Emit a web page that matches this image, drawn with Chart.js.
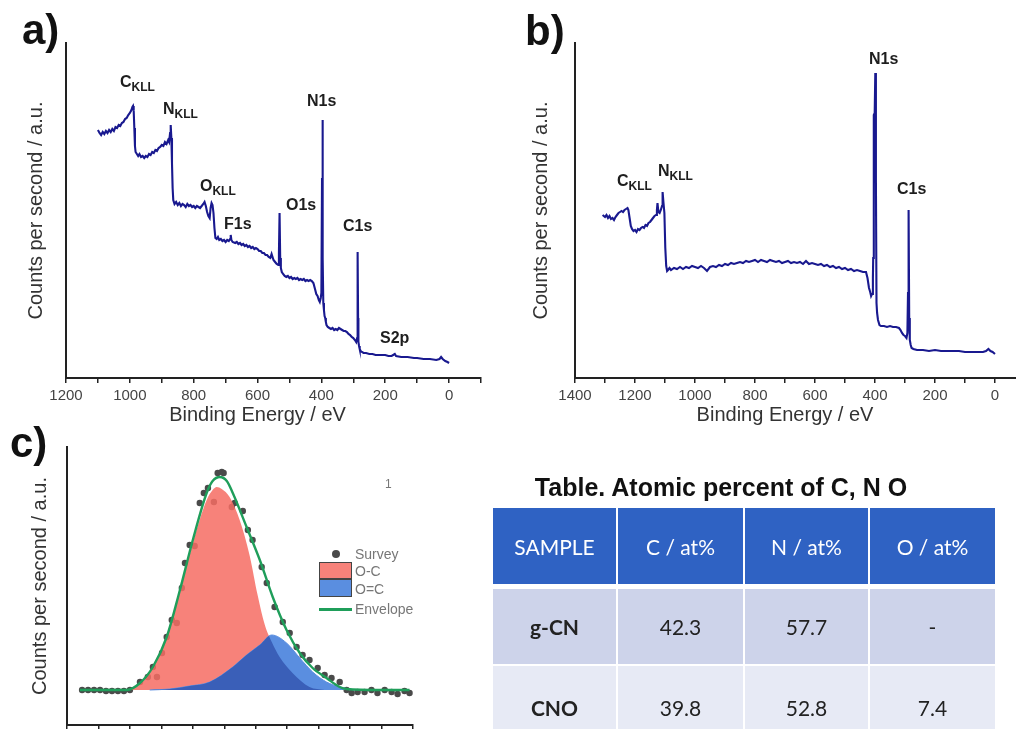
<!DOCTYPE html>
<html><head><meta charset="utf-8">
<script src="https://cdn.jsdelivr.net/npm/chart.js@4.4.1/dist/chart.umd.min.js"></script>
<style>
body{margin:0;width:1016px;height:729px;overflow:hidden;background:#fff;position:relative;font-family:"Liberation Sans",Arial,sans-serif}
canvas{position:absolute}
.lbl{position:absolute;font-weight:bold;font-size:16px;line-height:16px;color:#1e1e1e;white-space:nowrap}
.lbl sub{font-size:12px;vertical-align:-4px;line-height:0}
.panel{position:absolute;font-weight:bold;font-size:42px;line-height:42px;color:#111}
#leg{position:absolute;left:0;top:0}
.lt{position:absolute;font-size:14px;line-height:14px;color:#777;white-space:nowrap}
#ttl{position:absolute;left:471px;top:475px;width:500px;text-align:center;font-weight:bold;font-size:25px;line-height:25px;color:#111}
#tb{position:absolute;left:493px;top:508px;font-family:Lato,"Liberation Sans",sans-serif;font-size:21px}
.row{display:flex;gap:2px}
.cell{display:flex;align-items:center;justify-content:center}
.h .cell{background:#2f62c3;color:#fff;height:76px}
.r1 .cell{background:#cdd3ea;color:#222;height:75px}
.r2 .cell{background:#e7eaf5;color:#222;height:82px}
.s{font-weight:bold}
</style></head>
<body>
<canvas id="ca" width="500" height="440" style="left:0;top:0"></canvas>
<canvas id="cb" width="516" height="440" style="left:500px;top:0"></canvas>
<canvas id="cc" width="480" height="309" style="left:0;top:420px"></canvas>

<div class="panel" style="left:22px;top:9px">a)</div>
<div class="panel" style="left:525px;top:10px">b)</div>
<div class="panel" style="left:10px;top:422px">c)</div>

<div class="lbl" style="left:120px;top:74px">C<sub>KLL</sub></div>
<div class="lbl" style="left:163px;top:101px">N<sub>KLL</sub></div>
<div class="lbl" style="left:200px;top:178px">O<sub>KLL</sub></div>
<div class="lbl" style="left:224px;top:216px">F1s</div>
<div class="lbl" style="left:286px;top:197px">O1s</div>
<div class="lbl" style="left:307px;top:93px">N1s</div>
<div class="lbl" style="left:343px;top:218px">C1s</div>
<div class="lbl" style="left:380px;top:330px">S2p</div>

<div class="lbl" style="left:617px;top:173px">C<sub>KLL</sub></div>
<div class="lbl" style="left:658px;top:163px">N<sub>KLL</sub></div>
<div class="lbl" style="left:869px;top:51px">N1s</div>
<div class="lbl" style="left:897px;top:181px">C1s</div>

<div id="leg">
  <div style="position:absolute;left:332px;top:550px;width:8px;height:8px;border-radius:50%;background:#4a4a4a"></div>
  <div class="lt" style="left:355px;top:547px">Survey</div>
  <div style="position:absolute;left:319px;top:562px;width:31px;height:15px;background:#f7827a;border:1px solid #444"></div>
  <div class="lt" style="left:355px;top:564px">O-C</div>
  <div style="position:absolute;left:319px;top:579px;width:31px;height:16px;background:#5a8ee0;border:1px solid #444"></div>
  <div class="lt" style="left:355px;top:582px">O=C</div>
  <div style="position:absolute;left:319px;top:608px;width:33px;height:3px;background:#1f9e5a"></div>
  <div class="lt" style="left:355px;top:602px">Envelope</div>
  <div class="lt" style="left:385px;top:477px;font-size:12px">1</div>
</div>

<div id="ttl">Table. Atomic percent of C, N O</div>
<div id="tb"></div>

<script>
// ---------- Panel a: survey spectrum ----------
const aEnergy = [1100,1095,1090,1085,1080,1075,1070,1065,1060,1055,1050,1045,1040,1035,1030,1025,1020,1015,1010,1005,1000,995,992,990,988,986,984,982,978,974,970,965,960,955,950,945,940,935,930,925,920,915,910,905,900,895,890,885,880,877,874,872,870,868,866,864,860,855,850,845,840,835,830,825,820,815,810,805,800,795,790,785,780,775,770,766,762,758,754,750,747,744,741,738,735,732,728,724,720,715,710,705,700,695,690,686,684,682,678,670,665,660,655,650,645,640,635,630,625,620,615,610,605,600,595,590,585,580,575,570,565,560,556,550,545,540,535,533,531,529,527,524,520,515,510,505,500,495,490,485,480,475,470,465,460,455,450,445,440,435,430,425,420,416,412,408,405,402,400,398,397,396,395,394,392,390,388,386,384,380,375,370,365,360,355,350,345,340,335,330,325,320,315,310,305,300,295,291,288,287,286,285,284,282,280,277,273,268,260,250,240,230,220,210,200,190,180,170,166,150,130,110,100,80,60,40,30,25,20,12,5,0];
const aCounts = [248,245,243,246,244,247,245,248,246,249,247,251,250,253,252,255,256,259,260,263,265,268,271,272,268,250,232,226,224,222,224,221,222,220,222,221,224,223,226,225,228,227,230,231,233,232,236,234,238,236,245,253,240,215,190,178,174,176,173,175,172,174,173,171,174,172,173,171,172,170,172,171,170,172,174,176,172,166,162,160,170,175,173,165,150,140,139,141,138,139,137,138,136,138,137,139,143,138,136,135,136,134,135,133,134,132,133,131,132,130,131,129,130,129,127,127,125,125,123,123,121,120,124,118,116,114,113,125,165,120,110,106,104,102,101,102,100,101,99,100,99,100,98,99,98,99,97,98,97,98,97,95,89,84,82,78,76,80,85,200,258,210,120,75,68,62,60,56,53,51,50,49,50,48,49,48,50,49,48,47,47,46,44,43,41,40,38,36,40,80,126,60,36,32,29,27,26,25,25,24,24,23,23,23,23,22,22,24,22,21,21,20,20,19,19,18,19,21,19,17,16,15];
const aTickValues = [1200,1100,1000,900,800,700,600,500,400,300,200,100,0,-100];
const aTickLabels = ['1200','','1000','','800','','600','','400','','200','','0',''];

// ---------- Panel b: survey spectrum ----------
const bEnergy = [1308,1300,1295,1290,1285,1280,1275,1270,1265,1260,1255,1250,1245,1240,1235,1230,1225,1222,1218,1214,1210,1205,1200,1195,1190,1185,1180,1175,1170,1165,1160,1155,1150,1145,1140,1135,1130,1127,1125,1122,1118,1114,1110,1108,1105,1102,1099,1096,1093,1090,1085,1080,1070,1060,1050,1040,1030,1020,1010,1000,990,980,970,960,950,940,930,920,910,900,890,880,870,860,850,840,830,820,810,800,790,780,770,760,750,740,730,720,710,700,690,680,670,660,650,640,630,620,610,600,590,580,570,560,550,540,530,520,510,500,490,480,470,460,450,440,430,425,420,416,413,410,407,406,404,401,399,397,395,393,390,385,380,370,360,350,340,330,320,315,310,305,300,295,292,290,288,286,284,281,278,272,260,240,220,200,180,160,140,120,100,80,60,40,30,22,15,8,0];
const bCounts = [163,161,163,160,162,159,160,158,161,163,165,166,167,166,168,169,170,168,160,152,149,147,148,146,149,148,150,151,150,153,152,155,156,158,160,162,163,168,175,166,165,168,172,186,175,165,130,112,107,108,110,108,110,109,111,109,111,110,112,111,110,112,110,107,111,112,111,113,112,114,113,115,114,115,116,115,117,116,117,118,116,118,117,116,118,117,116,117,115,116,117,115,116,115,116,114,117,114,115,114,113,114,112,113,111,112,110,111,109,110,108,109,107,108,107,106,106,100,90,86,82,84,100,120,263,265,305,200,75,65,58,53,52,52,51,52,51,51,50,48,45,43,42,40,45,85,168,60,38,33,30,29,28,28,27,28,27,27,27,27,26,26,26,26,27,29,27,26,24];
const bTickValues = [1400,1300,1200,1100,1000,900,800,700,600,500,400,300,200,100,0];
const bTickLabels = ['1400','','1200','','1000','','800','','600','','400','','200','','0'];

// ---------- Panel c: O1s high resolution ----------
const cBase = 35;
const cSurveyE = [539.52,539.33,539.14,538.95,538.76,538.57,538.38,538.19,538.00,537.68,537.43,537.27,537.14,536.98,536.83,536.67,536.51,536.35,536.25,536.10,535.94,535.78,535.65,535.52,535.33,535.21,535.08,535.02,534.76,534.67,534.41,534.25,534.10,533.81,533.65,533.40,533.14,532.92,532.70,532.51,532.29,532.03,531.81,531.59,531.33,531.11,530.95,530.76,530.54,530.32,530.13,529.90,529.68,529.49,529.27,529.11];
const cSurveyI = [35,35,35,35,34,34,34,34,35,43,48,58,48,72,88,105,102,137,162,180,179,222,232,237,223,252,253,252,218,222,214,195,185,158,142,118,103,92,78,70,65,57,50,47,43,35,32,33,33,35,32,35,33,31,34,32];
const cOCE = [538.10,537.68,537.27,536.83,536.41,536.00,535.56,535.37,535.24,535.08,534.83,534.51,534.19,533.94,533.71,533.49,533.24,532.83,532.29,531.81];
const cOCI = [35,41,57,87,133,182,225,235,238,236,228,205,169,130,100,83,68,52,38,35];
const cODCE = [537.37,536.73,536.10,535.46,534.73,534.29,533.87,533.49,533.02,532.60,532.19,531.75,531.33,530.86];
const cODCI = [35,36,39,43,58,70,80,90,82,67,53,43,38,35];
const cEnvE = [539.59,538.95,538.10,537.68,537.27,536.83,536.41,536.00,535.56,535.37,535.14,534.92,534.73,534.29,533.87,533.46,533.02,532.60,532.19,531.75,531.33,531.11,530.06,529.11];
const cEnvI = [35,35,35,42,58,88,135,185,232,244,248,244,232,198,165,128,95,72,57,47,38,36,35,35];
const cTickValues = [540,539,538,537,536,535,534,533,532,531,530,529];

// ---------- Table ----------
const tableHeaders = ['SAMPLE','C / at%','N / at%','O / at%'];
const tableSamples = ['g-CN','CNO'];
const tableC = ['42.3','39.8'];
const tableN = ['57.7','52.8'];
const tableO = ['-','7.4'];

Chart.defaults.font.family = '"Liberation Sans", Arial, sans-serif';
const AX = '#222';
const xy = (xs, ys) => xs.map((x, i) => ({x, y: ys[i]}));
const labelMap = (vals, labs) => { const m = {}; vals.forEach((v, i) => m[v] = labs[i]); return m; };

function xTitlePlugin(text, midValue, y) {
  return {
    id: 'xTitle',
    afterDraw(chart) {
      const ctx = chart.ctx, x = chart.scales.x.getPixelForValue(midValue);
      ctx.save();
      ctx.font = '20px "Liberation Sans", Arial, sans-serif';
      ctx.fillStyle = '#333'; ctx.textAlign = 'center'; ctx.textBaseline = 'middle';
      ctx.fillText(text, x, y);
      ctx.restore();
    }
  };
}

function surveyChart(id, energy, counts, tickVals, tickLabs, xmin, xmax, yW, titlePad, rightPad) {
  const lm = labelMap(tickVals, tickLabs);
  const labelled = tickVals.filter((v, i) => tickLabs[i] !== '');
  const mid = (Math.max(...labelled) + Math.min(...labelled)) / 2;
  return new Chart(document.getElementById(id), {
    type: 'line',
    data: {datasets: [{data: xy(energy, counts), borderColor: '#19198f', borderWidth: 2.1, pointRadius: 0, tension: 0, fill: false}]},
    options: {
      responsive: false, animation: false, events: [],
      layout: {padding: {left: 0, top: 43, right: rightPad, bottom: 0}},
      plugins: {legend: {display: false}, tooltip: {enabled: false}},
      scales: {
        x: {type: 'linear', reverse: true, min: xmin, max: xmax,
          afterBuildTicks: s => { s.ticks = tickVals.map(v => ({value: v})); },
          afterFit: s => { s.height = 62; },
          ticks: {autoSkip: false, maxRotation: 0, padding: 4, color: '#444', font: {size: 15}, callback: v => lm[v] ?? ''},
          grid: {display: true, drawOnChartArea: false, drawTicks: true, tickLength: 5, color: AX, lineWidth: 1.5},
          border: {display: true, color: AX, width: 2}},
        y: {min: 0, max: 335,
          afterFit: s => { s.width = yW; },
          ticks: {display: false}, grid: {display: false},
          border: {display: true, color: AX, width: 2},
          title: {display: true, text: 'Counts per second / a.u.', color: '#333', font: {size: 20}, padding: {top: titlePad, bottom: 0}}}
      }
    },
    plugins: [xTitlePlugin('Binding Energy / eV', mid, 415)]
  });
}

surveyChart('ca', aEnergy, aCounts, aTickValues, aTickLabels, -100, 1200, 66, 24, 19);
surveyChart('cb', bEnergy, bCounts, bTickValues, bTickLabels, -70, 1400, 75, 29, 0);

const overlapPlugin = {
  id: 'overlap',
  afterDatasetDraw(chart, args) {
    if (args.index !== 2) return;
    const red = chart.getDatasetMeta(1).dataset, blue = chart.getDatasetMeta(2).dataset;
    const yb = chart.scales.y.getPixelForValue(cBase);
    const ctx = chart.ctx;
    ctx.save();
    ctx.beginPath(); red.path(ctx);
    let p = red.points; ctx.lineTo(p[p.length - 1].x, yb); ctx.lineTo(p[0].x, yb); ctx.closePath(); ctx.clip();
    ctx.beginPath(); blue.path(ctx);
    p = blue.points; ctx.lineTo(p[p.length - 1].x, yb); ctx.lineTo(p[0].x, yb); ctx.closePath();
    ctx.fillStyle = '#3a5fb8'; ctx.fill();
    ctx.restore();
  }
};

new Chart(document.getElementById('cc'), {
  type: 'line',
  data: {datasets: [
    {label: 'Survey', data: xy(cSurveyE, cSurveyI), showLine: false, pointRadius: 3.2, pointBackgroundColor: '#4a4a4a', pointBorderWidth: 0, order: 4},
    {label: 'O-C', data: xy(cOCE, cOCI), borderWidth: 0, borderColor: 'rgba(0,0,0,0)', pointRadius: 0, cubicInterpolationMode: 'monotone', fill: {value: cBase}, backgroundColor: 'rgba(246,108,99,0.85)', order: 3},
    {label: 'O=C', data: xy(cODCE, cODCI), borderWidth: 1, borderColor: '#5a8ee0', pointRadius: 0, cubicInterpolationMode: 'monotone', fill: {value: cBase}, backgroundColor: '#5a8ee0', order: 2},
    {label: 'Envelope', data: xy(cEnvE, cEnvI), borderWidth: 2.4, borderColor: '#1f9e5a', pointRadius: 0, cubicInterpolationMode: 'monotone', fill: false, order: 1}
  ]},
  options: {
    responsive: false, animation: false, events: [],
    layout: {padding: {left: 0, top: 27, right: 67, bottom: 0}},
    plugins: {legend: {display: false}, tooltip: {enabled: false}},
    scales: {
      x: {type: 'linear', reverse: true, min: 529, max: 540,
        afterBuildTicks: s => { s.ticks = cTickValues.map(v => ({value: v})); },
        afterFit: s => { s.height = 4; },
        ticks: {display: false},
        grid: {display: true, drawOnChartArea: false, drawTicks: true, tickLength: 4, color: AX, lineWidth: 1.5},
        border: {display: true, color: AX, width: 2}},
      y: {min: 0, max: 278,
        afterFit: s => { s.width = 67; },
        ticks: {display: false}, grid: {display: false},
        border: {display: true, color: AX, width: 2},
        title: {display: true, text: 'Counts per second / a.u.', color: '#333', font: {size: 20}, padding: {top: 28, bottom: 0}}}
    }
  },
  plugins: [overlapPlugin]
});

// build table
const tb = document.getElementById('tb');
const widths = [123, 125, 123, 125];
function addRow(cls, cells, extraStyle) {
  const r = document.createElement('div');
  r.className = 'row ' + cls;
  if (extraStyle) r.style.cssText = extraStyle;
  cells.forEach((t, i) => {
    const c = document.createElement('div');
    c.className = 'cell' + (cls !== 'h' && i === 0 ? ' s' : '');
    c.style.width = widths[i] + 'px';
    c.textContent = t;
    r.appendChild(c);
  });
  tb.appendChild(r);
}
addRow('h', tableHeaders);
addRow('r1', [tableSamples[0], tableC[0], tableN[0], tableO[0]], 'margin-top:5px');
addRow('r2', [tableSamples[1], tableC[1], tableN[1], tableO[1]], 'margin-top:2px');
</script>
</body></html>
